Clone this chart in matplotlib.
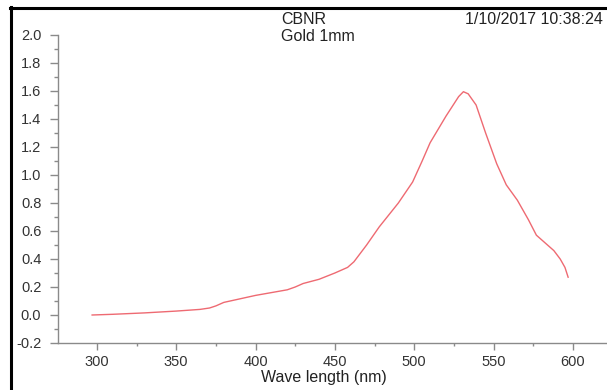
import matplotlib
matplotlib.use('Agg')
import matplotlib.pyplot as plt
from matplotlib.ticker import MultipleLocator
from matplotlib.lines import Line2D

plt.rcParams['font.family'] = ['Liberation Sans', 'DejaVu Sans']

# spectrum
wavelength = [297, 310, 330, 350, 365, 371, 375, 380, 390, 400, 410, 420, 425,
              430, 440, 450, 458, 462, 470, 478, 490, 499, 505, 510, 520, 528,
              531, 534, 539, 545, 552, 558, 565, 572, 577, 582, 588, 592, 595, 597]
absorb = [0.0, 0.005, 0.015, 0.028, 0.04, 0.05, 0.065, 0.09, 0.115, 0.14, 0.16,
          0.18, 0.2, 0.225, 0.255, 0.3, 0.34, 0.38, 0.5, 0.63, 0.8, 0.95, 1.1,
          1.23, 1.42, 1.56, 1.595, 1.58, 1.5, 1.3, 1.08, 0.93, 0.82, 0.68, 0.57,
          0.52, 0.46, 0.4, 0.34, 0.27]

sample = 'CBNR\nGold 1mm'
stamp = '1/10/2017 10:38:24'

fig = plt.figure(figsize=(6.07, 3.90), dpi=100)
ax = fig.add_axes([58 / 607, 47 / 390, 549 / 607, 308 / 390])

ax.plot(wavelength, absorb, c='#ee6a72', linewidth=1)

ax.set_xlim(275.5, 621.5)
ax.set_ylim(-0.2, 2.0)
ax.xaxis.set_major_locator(MultipleLocator(50))
ax.xaxis.set_minor_locator(MultipleLocator(25))
ax.yaxis.set_major_locator(MultipleLocator(0.2))
ax.yaxis.set_minor_locator(MultipleLocator(0.1))
ax.yaxis.set_major_formatter(matplotlib.ticker.FormatStrFormatter('%.1f'))

for s in ['top', 'right']:
    ax.spines[s].set_visible(False)
for s in ['left', 'bottom']:
    ax.spines[s].set_color('#8a8a8a')
    ax.spines[s].set_linewidth(1)

ax.tick_params(which='major', length=6, width=1, color='#8a8a8a',
               labelsize=10.5, labelcolor='#333333')
ax.tick_params(which='minor', length=3, width=1, color='#8a8a8a')
ax.tick_params(axis='y', which='major', pad=6)
ax.tick_params(axis='x', which='major', length=5, pad=4)
ax.tick_params(axis='x', which='minor', length=2)

ax.set_xlabel('Wave length (nm)', fontsize=11.5, color='#222222', labelpad=0.5)
ax.xaxis.label.set_x(0.485)

fig.text(281 / 607, 1 - 12 / 390, sample, fontsize=11.5, color='#222222',
         va='top', ha='left', linespacing=1.2)
fig.text(603 / 607, 1 - 12 / 390, stamp, fontsize=11.5, color='#222222',
         va='top', ha='right')

# black frame edges on left and top
fig.add_artist(Line2D([11 / 607, 11 / 607], [0, 1 - 7 / 390], color='black', linewidth=2.2))
fig.add_artist(Line2D([10 / 607, 1], [1 - 8 / 390, 1 - 8 / 390], color='black', linewidth=2.2))

fig.savefig('out.png', dpi=100)
